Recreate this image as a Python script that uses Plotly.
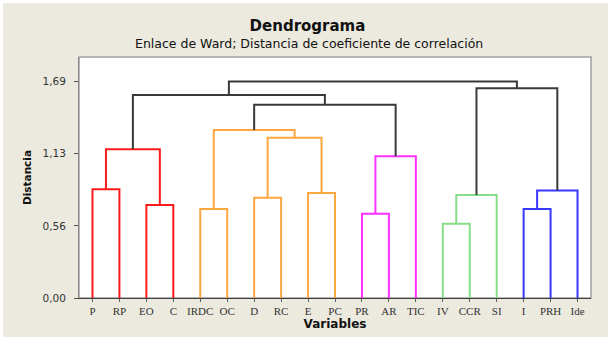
import plotly.graph_objects as go

# ---- data ----
leaves = ["P", "RP", "EO", "C", "IRDC", "OC", "D", "RC", "E", "PC",
          "PR", "AR", "TIC", "IV", "CCR", "SI", "I", "PRH", "Ide"]
# merges: node ids 0..18 are leaves; merge k creates node 19+k
merge_a = [0, 2, 19, 4, 6, 8, 23, 22, 10, 27, 26, 21, 13, 31, 16, 33, 32, 30]
merge_b = [1, 3, 20, 5, 7, 9, 24, 25, 11, 12, 28, 29, 14, 15, 17, 18, 34, 35]
merge_height = [0.849, 0.725, 1.161, 0.694, 0.782, 0.819, 1.251, 1.311,
                0.657, 1.106, 1.509, 1.585, 0.579, 0.803, 0.694, 0.840,
                1.637, 1.690]
merge_group = ["red", "red", "red", "orange", "orange", "orange", "orange", "orange",
               "magenta", "magenta", "black", "black", "green", "green", "blue", "blue",
               "black", "black"]
y_ticks = [0.0, 1.69 / 3, 2 * 1.69 / 3, 1.69]
y_ticktext = ["0,00", "0,56", "1,13", "1,69"]

palette = {"red": "#FF1A1A", "orange": "#FFA640", "magenta": "#FF30FF",
           "green": "#88DD88", "blue": "#3838FF", "black": "#3A3A3A"}

# ---- build dendrogram segments ----
n = len(leaves)
node_x = {i: i + 1 for i in range(n)}
node_h = {i: 0.0 for i in range(n)}
segs = {k: ([], []) for k in palette}
for k, (a, b, h, g) in enumerate(zip(merge_a, merge_b, merge_height, merge_group)):
    xa, xb = node_x[a], node_x[b]
    xs, ys = segs[g]
    xs += [xa, xa, xb, xb, None]
    ys += [node_h[a], h, h, node_h[b], None]
    node_x[n + k] = (xa + xb) / 2
    node_h[n + k] = h

fig = go.Figure()
for g, (xs, ys) in segs.items():
    fig.add_trace(go.Scatter(x=xs, y=ys, mode="lines",
                             line=dict(color=palette[g], width=2),
                             hoverinfo="skip", showlegend=False))

W, H = 615, 341
L, R, T, B = 79, 24, 57, 43
ph = H - T - B
pw = W - L - R

fig.update_layout(
    width=W, height=H,
    margin=dict(l=L, r=R, t=T, b=B),
    paper_bgcolor="white",
    plot_bgcolor="white",
    font=dict(family="DejaVu Sans", color="#222222"),
    title=dict(text="<b>Dendrograma</b>", x=0.5, xref="container", xanchor="center",
               y=1 - 26 / H, yref="container", yanchor="middle",
               font=dict(size=15, color="#111111")),
    shapes=[
        dict(type="rect", xref="paper", yref="paper",
             x0=(3 - L) / pw, x1=(608 - L) / pw, y0=-(337 - (H - B)) / ph, y1=1 + (T - 3) / ph,
             fillcolor="#ECE9DF", line=dict(width=0), layer="below"),
        dict(type="rect", xref="paper", yref="paper", x0=0, x1=1, y0=0, y1=1,
             fillcolor="white", line=dict(color="#A0A0A0", width=1.5), layer="below"),
    ],
    annotations=[
        dict(text="Enlace de Ward; Distancia de coeficiente de correlación",
             xref="paper", yref="paper", x=(309 - L) / pw, y=1 + (T - 43) / ph,
             xanchor="center", yanchor="middle", showarrow=False,
             font=dict(size=12.5, color="#111111")),
    ],
)

fig.update_xaxes(range=[0.5, n + 0.5], tickvals=list(range(1, n + 1)), ticktext=leaves,
                 showgrid=False, zeroline=False, showline=True, linecolor="#404040", linewidth=1,
                 ticks="outside", ticklen=3, tickcolor="#606060",
                 tickfont=dict(family="Liberation Serif", size=11, color="#333333"),
                 title=dict(text="<b>Variables</b>", font=dict(size=12, color="#111111"), standoff=0))
fig.update_yaxes(range=[0, 1.881], tickvals=y_ticks, ticktext=y_ticktext,
                 showgrid=False, zeroline=False, showline=True, linecolor="#888888", linewidth=1,
                 ticks="outside", ticklen=4, tickcolor="#555555", ticklabelstandoff=6,
                 tickfont=dict(size=10.5, color="#333333"),
                 title=dict(text="<b>Distancia</b>", font=dict(size=10.5, color="#111111"), standoff=8))

fig.write_html("out.html")
